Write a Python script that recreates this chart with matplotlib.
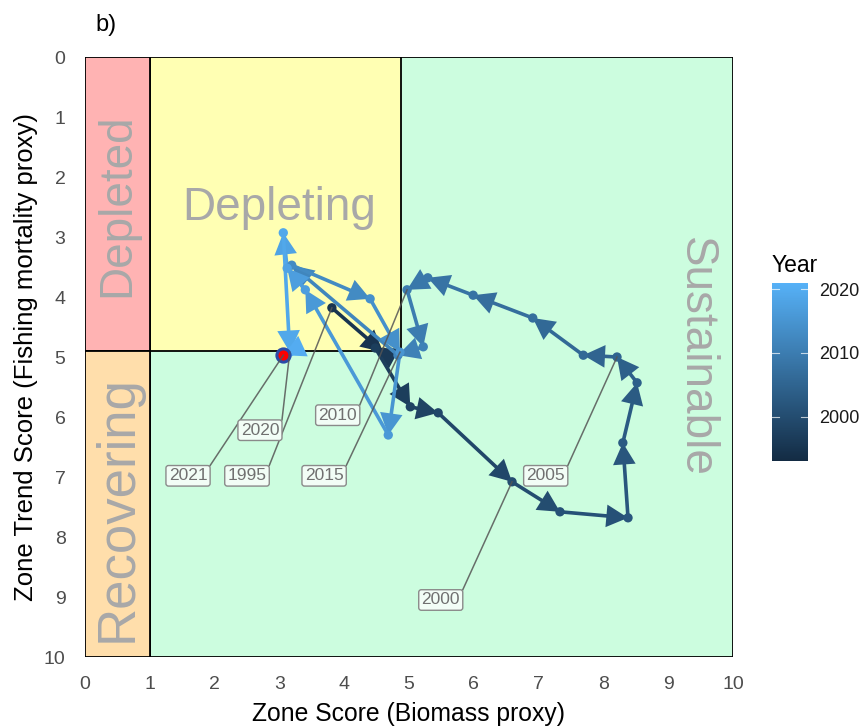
import numpy as np
import matplotlib
matplotlib.use("Agg")
import matplotlib.pyplot as plt
from matplotlib.colors import LinearSegmentedColormap, Normalize
from matplotlib.patches import Rectangle, FancyArrowPatch
import matplotlib.colorbar as mcolorbar

plt.rcParams['font.family'] = ['Liberation Sans', 'DejaVu Sans']

# ---------------- data ----------------
years = list(range(1995, 2022))
biomass = [3.81, 4.60, 4.48, 5.02, 5.45, 6.59, 7.33, 8.38, 8.30, 8.52,
           8.21, 7.69, 6.91, 5.99, 5.29, 4.97, 5.22, 4.83, 3.19, 4.40,
           4.86, 4.68, 3.40, 3.12, 3.06, 3.16, 3.06]
trend = [4.18, 4.92, 4.85, 5.83, 5.93, 7.08, 7.58, 7.68, 6.43, 5.43,
         5.00, 4.97, 4.35, 3.97, 3.68, 3.88, 4.83, 4.97, 3.47, 4.03,
         4.92, 6.30, 3.88, 3.52, 2.93, 4.92, 4.97]

label_years = [2021, 2020, 1995, 2015, 2010, 2005, 2000]
label_x = [1.59, 2.70, 2.50, 3.69, 3.90, 7.11, 5.49]
label_y = [6.98, 6.22, 6.98, 6.98, 5.97, 6.98, 9.05]

zone_names = ["Depleted", "Recovering", "Depleting", "Sustainable"]
zone_x0 = [0, 0, 1, 1]
zone_x1 = [1, 1, 4.87, 10]
zone_y0 = [0, 4.9, 0, 0]
zone_y1 = [4.9, 10, 4.9, 10]
zone_colors = ["#ffb3b3", "#ffdeab", "#ffffb3", "#ccfddf"]

# ---------------- figure ----------------
W, H = 861, 727
fig = plt.figure(figsize=(W / 100, H / 100), dpi=100)
ax = fig.add_axes([85 / W, 1 - 657 / H, (733 - 85) / W, (657 - 57) / H])
ax.set_xlim(0, 10)
ax.set_ylim(10, 0)

order = [3, 2, 0, 1]
for i in order:
    ax.add_patch(Rectangle((zone_x0[i], zone_y0[i]), zone_x1[i] - zone_x0[i],
                           zone_y1[i] - zone_y0[i], facecolor=zone_colors[i],
                           edgecolor="black", lw=1.3, zorder=1))

zt = dict(color="#a8a8a8", zorder=2, ha="center", va="center")
ax.text(0.49, 2.47, "Depleted", rotation=90, fontsize=33, **zt)
ax.text(0.5, 7.52, "Recovering", rotation=90, fontsize=38, **zt)
ax.text(3.0, 2.52, "Depleting", fontsize=33, **zt)
ax.text(9.43, 5.0, "Sustainable", rotation=-90, fontsize=33, **zt)

cmap = LinearSegmentedColormap.from_list("gg", ["#132B43", "#56B1F7"])
norm = Normalize(vmin=1993, vmax=2021)

for i in range(len(years) - 1):
    c = cmap(norm(years[i]))
    arr = FancyArrowPatch((biomass[i], trend[i]), (biomass[i + 1], trend[i + 1]),
                          arrowstyle="-|>,head_length=11.5,head_width=6",
                          mutation_scale=1, shrinkA=0, shrinkB=0,
                          color=c, lw=2.6, zorder=4, joinstyle="miter")
    ax.add_patch(arr)

ax.scatter(biomass, trend, c=[cmap(norm(y)) for y in years], s=45, zorder=5,
           linewidths=0)
ax.scatter([biomass[-1]], [trend[-1]], s=90, facecolor="red",
           edgecolor="#2a4aa8", linewidths=2.2, zorder=6)

texts = []
for yr, lx, ly in zip(label_years, label_x, label_y):
    t = ax.text(lx, ly, str(yr), fontsize=12.5, color="#707070", ha="center",
                va="center", zorder=8,
                bbox=dict(boxstyle="round,pad=0.16,rounding_size=0.15",
                          facecolor="#f2fdf6", edgecolor="#8a8a8a", lw=1.0))
    texts.append(t)

fig.canvas.draw()
r = fig.canvas.get_renderer()
inv = ax.transData.inverted()
for t, yr in zip(texts, label_years):
    bb = t.get_bbox_patch().get_window_extent(r)
    (x0, y0) = inv.transform((bb.x0, bb.y0))
    (x1, y1) = inv.transform((bb.x1, bb.y1))
    idx = years.index(yr)
    px, py = biomass[idx], trend[idx]
    sx = min(max(px, min(x0, x1)), max(x0, x1))
    sy = min(max(py, min(y0, y1)), max(y0, y1))
    ax.plot([sx, px], [sy, py], color="#555555", lw=1.1, alpha=0.85, zorder=7)

ax.set_xticks(range(0, 11))
ax.set_yticks(range(0, 11))
ax.tick_params(labelsize=14, labelcolor="#4d4d4d", length=0, pad=14)
for s in ax.spines.values():
    s.set_visible(False)
ax.set_xlabel("Zone Score (Biomass proxy)", fontsize=17.8, labelpad=6)
ax.set_ylabel("Zone Trend Score (Fishing mortality proxy)", fontsize=18.5, labelpad=4)

fig.text(95 / W, 1 - 25 / H, "b)", fontsize=17, va="center", ha="left")

cax = fig.add_axes([772 / W, 1 - 461 / H, 36 / W, 178 / H])
cb = mcolorbar.ColorbarBase(cax, cmap=cmap, norm=norm, orientation="vertical")
cb.outline.set_visible(False)
cb.set_ticks([2000, 2010, 2020])
cax.tick_params(length=0, labelsize=13, labelcolor="#1a1a1a", pad=8)
for yv in [2000, 2010, 2020]:
    cax.plot([0, 0.2], [yv, yv], color="white", lw=0.8, alpha=0.7)
    cax.plot([0.8, 1], [yv, yv], color="white", lw=0.8, alpha=0.7)
cax.set_xlim(0, 1)
fig.text(772 / W, 1 - 265 / H, "Year", fontsize=16.5, va="center", ha="left")

fig.savefig("out.png", dpi=100)
